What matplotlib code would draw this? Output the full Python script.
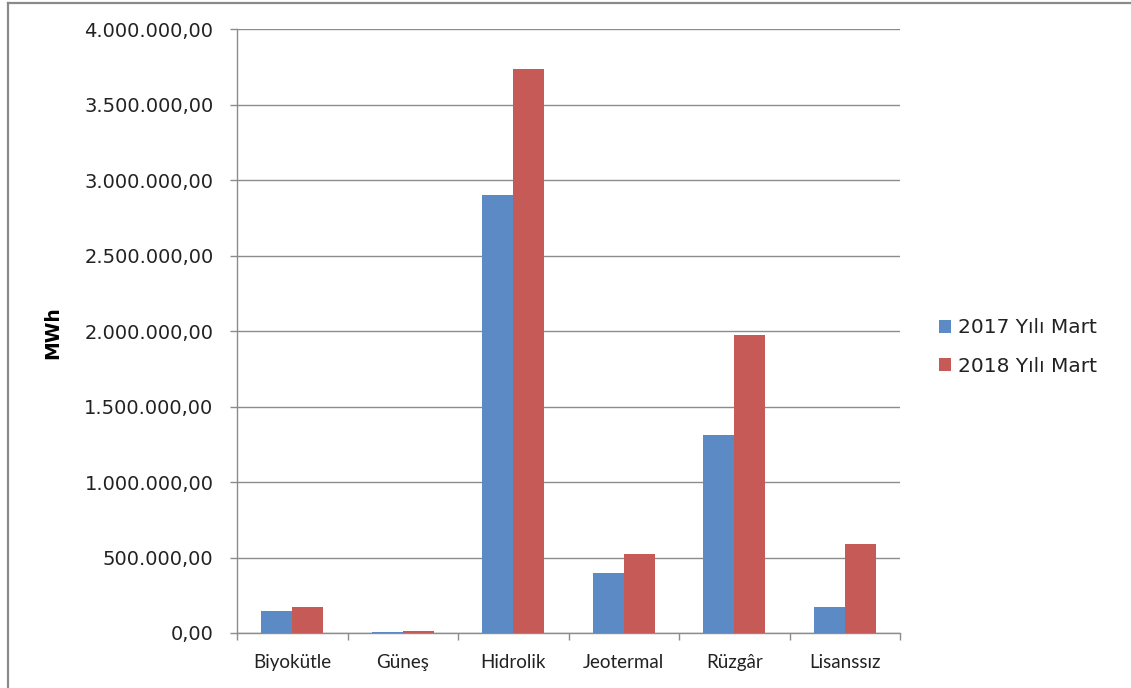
import matplotlib
matplotlib.use("Agg")
import matplotlib.pyplot as plt
from matplotlib.ticker import FuncFormatter, FixedLocator
from matplotlib.lines import Line2D
import numpy as np

categories = ["Biyokütle", "Güneş", "Hidrolik", "Jeotermal", "Rüzgâr", "Lisanssız"]
series_names = ["2017 Yılı Mart", "2018 Yılı Mart"]
values_2017 = [147000, 9000, 2899000, 400000, 1313000, 170000]
values_2018 = [170000, 10000, 3734000, 522000, 1974000, 587000]
y_ticks = [0, 500000, 1000000, 1500000, 2000000, 2500000, 3000000, 3500000, 4000000]

colors = ["#5B8AC5", "#C65A57"]
grid_col = "#8C8C8C"

W, H = 1131, 688
fig = plt.figure(figsize=(W / 100, H / 100), dpi=100)
fig.patch.set_facecolor("white")
ax = fig.add_axes([237 / W, 1 - 633 / H, 663 / W, 604 / H])

x = np.arange(len(categories))
bw = 0.28
ax.bar(x - bw / 2, values_2017, bw, color=colors[0], label=series_names[0],
       linewidth=0, zorder=3)
ax.bar(x + bw / 2, values_2018, bw, color=colors[1], label=series_names[1],
       linewidth=0, zorder=3)

ax.set_xlim(-0.5, len(categories) - 0.5)
ax.set_ylim(0, 4000000)
ax.set_yticks(y_ticks)


def tr_fmt(v, pos):
    s = f"{v:,.2f}"
    return s.replace(",", "X").replace(".", ",").replace("X", ".")


ax.yaxis.set_major_formatter(FuncFormatter(tr_fmt))
ax.yaxis.grid(True, color=grid_col, linewidth=1.0, zorder=0)
ax.set_axisbelow(True)

ax.set_xticks(x)
ax.set_xticklabels(categories, fontfamily="Lato", fontsize=13.5)
ax.xaxis.set_minor_locator(FixedLocator(np.arange(-0.5, len(categories), 1.0)))
ax.tick_params(axis="x", which="major", length=0, pad=15, colors="#222222")
ax.tick_params(axis="x", which="minor", length=5, width=1, color=grid_col)
ax.tick_params(axis="y", length=5, width=1, color=grid_col, pad=12, labelsize=14,
               labelcolor="#222222")

for sp in ["top", "right"]:
    ax.spines[sp].set_visible(False)
for sp in ["left", "bottom"]:
    ax.spines[sp].set_color(grid_col)
    ax.spines[sp].set_linewidth(1.0)

fig.text(53 / W, 1 - 333 / H, "MWh", rotation=90, ha="center", va="center",
         fontsize=13.5, fontweight="bold", color="black")

fig.legend(loc="center left", bbox_to_anchor=(921 / W, 1 - 347 / H), frameon=False,
           fontsize=14.5, handlelength=0.6, handleheight=0.6, handletextpad=0.35,
           labelspacing=0.95, labelcolor="#222222")

fig.add_artist(Line2D([7.5 / W, 7.5 / W], [0, 1 - 2.5 / H], transform=fig.transFigure,
                      color="#8A8A8A", linewidth=1.6))
fig.add_artist(Line2D([7.5 / W, 1], [1 - 2.5 / H, 1 - 2.5 / H], transform=fig.transFigure,
                      color="#8A8A8A", linewidth=1.6))

fig.savefig("out.png", dpi=100, facecolor="white")
